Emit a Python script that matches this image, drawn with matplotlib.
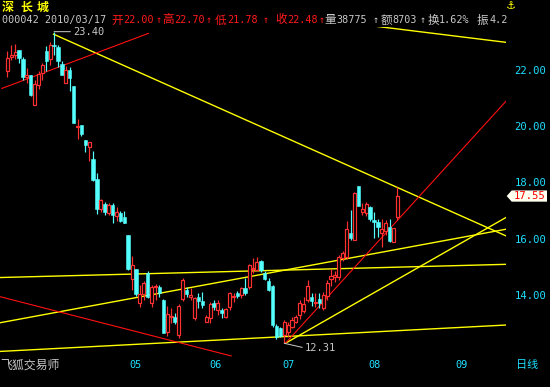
import numpy as np
import matplotlib
matplotlib.use('Agg')
import matplotlib.pyplot as plt
from matplotlib.patches import Rectangle, Polygon
from matplotlib.transforms import blended_transform_factory

plt.rcParams['font.family'] = ['DejaVu Sans Mono', 'Noto Sans CJK SC']

# daily candles 2010/03/17 .. 2010/08
opens = [22.00, 22.49, 22.58, 22.75, 22.43, 21.78, 21.87, 20.80, 21.51, 21.93,
         22.70, 22.44, 22.94, 22.86, 22.25, 21.57, 22.05, 21.46, 20.00, 20.07,
         19.54, 19.28, 18.87, 18.16, 17.10, 17.27, 16.94, 17.23, 16.84, 16.94,
         16.82, 16.16, 14.59, 14.95, 13.73, 14.06, 14.80, 13.76, 14.33, 14.30,
         13.85, 12.72, 13.24, 13.26, 12.60, 13.87, 14.20, 13.95, 13.20, 13.95,
         13.82, 13.08, 13.20, 13.73, 13.49, 13.49, 13.26, 13.59, 13.96, 14.11,
         14.03, 14.26, 14.30, 14.96, 14.92, 15.25, 14.80, 14.54, 14.35, 12.92,
         12.85, 12.60, 12.72, 12.90, 13.08, 13.32, 13.45, 13.85, 13.97, 13.73,
         13.88, 13.55, 13.99, 14.59, 14.66, 14.68, 15.33, 15.37, 16.22, 15.99,
         17.91, 16.98, 16.94, 17.15, 16.70, 16.62, 16.25, 16.32, 16.46, 15.93,
         16.79]
highs = [22.70, 22.94, 22.96, 22.75, 22.49, 22.11, 21.87, 21.69, 21.99, 22.28,
         22.88, 23.03, 23.40, 22.91, 22.34, 22.17, 22.13, 21.46, 20.30, 20.07,
         19.54, 19.47, 19.14, 18.37, 17.44, 17.34, 17.29, 17.29, 17.15, 17.03,
         17.03, 16.18, 15.42, 14.95, 14.38, 14.54, 14.88, 14.38, 14.42, 14.38,
         13.87, 13.63, 13.55, 13.40, 13.71, 14.62, 14.32, 14.26, 13.95, 14.11,
         14.13, 13.30, 13.79, 13.85, 13.85, 13.55, 13.55, 14.14, 14.11, 14.17,
         14.32, 14.62, 15.13, 15.33, 15.39, 15.29, 14.90, 14.62, 14.38, 12.98,
         12.90, 13.14, 13.08, 13.26, 13.32, 13.85, 13.95, 14.56, 14.11, 14.09,
         14.09, 14.15, 14.56, 14.95, 14.90, 15.45, 15.60, 16.65, 17.05, 17.70,
         17.91, 17.29, 17.33, 17.18, 16.99, 16.72, 16.72, 16.70, 16.72, 16.40,
         17.86]
lows = [21.78, 22.40, 22.44, 22.28, 21.69, 21.57, 21.10, 20.80, 21.37, 21.69,
        22.01, 22.22, 22.58, 22.13, 21.87, 21.57, 21.30, 20.15, 19.59, 19.68,
        19.12, 18.81, 18.07, 16.92, 16.98, 16.86, 16.88, 16.58, 16.67, 16.64,
        16.58, 14.93, 14.21, 13.99, 13.60, 13.85, 13.91, 13.60, 13.85, 13.97,
        12.67, 12.57, 13.02, 13.00, 12.49, 13.83, 13.97, 13.85, 13.15, 13.55,
        13.57, 13.05, 13.04, 13.49, 13.32, 13.20, 13.20, 13.49, 13.79, 13.92,
        13.92, 14.03, 14.23, 14.80, 14.90, 14.86, 14.56, 14.16, 12.88, 12.48,
        12.52, 12.31, 12.55, 12.84, 13.02, 13.16, 13.40, 13.79, 13.64, 13.60,
        13.55, 13.50, 13.85, 14.35, 14.50, 14.56, 15.25, 15.30, 15.99, 15.97,
        17.18, 16.88, 16.85, 16.65, 16.05, 16.08, 15.73, 16.15, 15.93, 15.93,
        16.70]
closes = [22.48, 22.58, 22.68, 22.46, 21.79, 21.87, 21.16, 21.54, 21.91, 22.22,
          22.37, 22.94, 22.88, 22.37, 21.87, 22.05, 21.75, 20.15, 20.05, 19.76,
          19.36, 19.47, 18.13, 17.09, 17.42, 16.98, 17.23, 16.88, 16.99, 16.67,
          16.60, 14.95, 15.10, 14.06, 14.06, 14.44, 13.97, 14.32, 14.36, 14.09,
          12.69, 13.37, 13.27, 13.08, 13.64, 14.56, 14.06, 14.03, 13.91, 13.82,
          13.67, 13.26, 13.71, 13.59, 13.75, 13.38, 13.52, 14.09, 13.98, 13.99,
          14.26, 14.11, 15.10, 14.99, 15.21, 14.92, 14.59, 14.20, 12.96, 12.55,
          12.58, 13.08, 12.96, 13.14, 13.26, 13.75, 13.70, 14.35, 13.83, 13.79,
          13.73, 14.03, 14.44, 14.70, 14.74, 15.37, 15.53, 16.37, 16.05, 17.67,
          17.20, 17.08, 17.27, 16.72, 16.64, 16.46, 16.37, 16.58, 15.96, 16.40,
          17.55]

month_labels = ['05', '06', '07', '08', '09']
month_start = [31.4, 51.7, 70.6, 92.7, 114.8]
price_ticks = [14, 16, 18, 20, 22]

# hand drawn trend lines, (index, price) end points
yellow_lines = [
    [(11.7, 23.32), (127.9, 16.13)],
    [(80.0, 23.84), (127.9, 23.02)],
    [(-1.9, 14.65), (127.9, 15.12)],
    [(-1.9, 13.04), (127.9, 16.37)],
    [(-1.9, 12.02), (127.9, 12.96)],
    [(71.3, 12.31), (127.9, 16.79)],
]
red_lines = [
    [(-1.4, 21.38), (36.2, 23.34)],
    [(-1.9, 13.97), (57.4, 11.86)],
    [(71.3, 12.31), (127.9, 20.93)],
]

W, H = 550, 387
RED = '#ff3030'
CYAN = '#54ffff'
LABEL = '#1ee0ff'
GRAY = '#c8c8c8'
YEL = '#ffff00'
PX = 0.72  # one pixel in points


def fx(x):
    return x / W


def fy(y):
    return 1 - y / H


fig = plt.figure(figsize=(5.5, 3.87), dpi=100, facecolor='black')
ax = fig.add_axes([0, fy(357), fx(506), (357 - 27) / H])
ax.set_facecolor('black')
ax.set_xlim(-1.872, 127.87)
ax.set_ylim(11.822, 23.566)
for s in ax.spines.values():
    s.set_visible(False)
ax.set_xticks([])
ax.set_yticks([])

# trend lines
for (x0, y0), (x1, y1) in yellow_lines:
    ax.plot([x0, x1], [y0, y1], color=YEL, lw=1.0, solid_capstyle='butt')
for (x0, y0), (x1, y1) in red_lines:
    ax.plot([x0, x1], [y0, y1], color='#ff1010', lw=0.8)

# candles
for i in range(len(opens)):
    o, h, l, c = opens[i], highs[i], lows[i], closes[i]
    if c >= o:
        ax.vlines(i, c, h, color=RED, lw=PX * 1.2)
        ax.vlines(i, l, o, color=RED, lw=PX * 1.2)
        ax.add_patch(Rectangle((i - 0.4, o), 0.8, max(c - o, 0.02),
                               facecolor='black', edgecolor=RED, lw=PX * 1.2, zorder=3))
    else:
        ax.vlines(i, l, h, color=CYAN, lw=PX * 1.2)
        ax.add_patch(Rectangle((i - 0.45, c), 0.9, o - c,
                               facecolor=CYAN, edgecolor=CYAN, lw=0.4, zorder=3))

# high / low markers
hi = int(np.argmax(highs))
lo = int(np.argmin(lows))
ax.annotate('%.2f' % highs[hi], xy=(hi, highs[hi]), xytext=(13.7, 0),
            textcoords='offset points', color=GRAY, fontsize=7.5, va='center',
            ha='left', annotation_clip=False,
            arrowprops=dict(arrowstyle='-', color=GRAY, lw=PX, shrinkA=0,
                            shrinkB=0, relpos=(0, 0.5)))
ax.annotate('%.2f' % lows[lo], xy=(lo, lows[lo]), xytext=(15, -3.4),
            textcoords='offset points', color=GRAY, fontsize=7.5, va='center',
            ha='left', annotation_clip=False,
            arrowprops=dict(arrowstyle='-', color=GRAY, lw=PX, shrinkA=0,
                            shrinkB=0, relpos=(0, 0.5)))

# right price scale
ty = blended_transform_factory(fig.transFigure, ax.transData)
for p in price_ticks:
    fig.text(fx(546.5), p, '%.2f' % p, transform=ty, color=LABEL,
             fontsize=7.6, ha='right', va='center')

# last price tag
last = closes[-1]
fig.add_artist(Polygon([(fx(506.7), last), (fx(511.7), last + 0.2),
                        (fx(547), last + 0.2), (fx(547), last - 0.2),
                        (fx(511.7), last - 0.2)], closed=True, transform=ty,
                       facecolor='#fffff0', edgecolor='none'))
fig.text(fx(529.5), last, '%.2f' % last, transform=ty, color='#ff0000',
         fontsize=7.6, ha='center', va='center')

# month axis
tx = blended_transform_factory(ax.transData, fig.transFigure)
for lab, pos in zip(month_labels, month_start):
    fig.text(pos, fy(365), lab, transform=tx, color=LABEL, fontsize=7.4,
             ha='left', va='center')
fig.text(fx(516.5), fy(365), '日线', color=LABEL, fontsize=8, ha='left',
         va='center', family='Noto Sans CJK SC')
fig.text(fx(0), fy(365), '飞狐交易师', color=GRAY, fontsize=8.6, ha='left',
         va='center', family='Noto Sans CJK SC')

# header
for x, ch in [(1.7, '深'), (20, '长'), (36.7, '城')]:
    fig.text(fx(x), fy(7.5), ch, color=YEL, fontsize=8.6, ha='left',
             va='center', family='Noto Sans CJK SC', fontweight='bold')
fig.text(fx(510.5), fy(6), '⚓', color=YEL, fontsize=8, ha='center',
         va='center', family='DejaVu Sans', fontweight='bold')

hdr_y = fy(20)
fig.text(fx(1.7), hdr_y, '000042 2010/03/17', color=GRAY, fontsize=7.3,
         ha='left', va='center')
pieces = [
    (111.7, '开', RED, True), (123.3, '22.00', RED, False), (155.5, '↑', RED, False),
    (162.3, '高', RED, True), (174.0, '22.70', RED, False), (205.5, '↑', RED, False),
    (215.0, '低', RED, True), (226.7, '21.78', RED, False), (263.0, '↑', RED, False),
    (275.0, '收', RED, True), (286.7, '22.48', RED, False), (318.5, '↑', RED, False),
    (324.3, '量', GRAY, True), (336.7, '38775', GRAY, False), (372.5, '↑', GRAY, False),
    (381.0, '额', GRAY, True), (392.3, '8703', GRAY, False), (420.0, '↑', GRAY, False),
    (427.7, '换', GRAY, True), (438.3, '1.62%', GRAY, False),
    (476.7, '振', GRAY, True), (489.3, '4.2', GRAY, False),
]
for x, t, col, cjk in pieces:
    if col == RED:
        col = '#ff1a1a'
    if cjk:
        fig.text(fx(x), hdr_y, t, color=col, fontsize=8.4, ha='left',
                 va='center', family='Noto Sans CJK SC')
    else:
        fig.text(fx(x), hdr_y, t, color=col, fontsize=7.3, ha='left',
                 va='center')

fig.savefig('out.png', dpi=100, facecolor='black')
